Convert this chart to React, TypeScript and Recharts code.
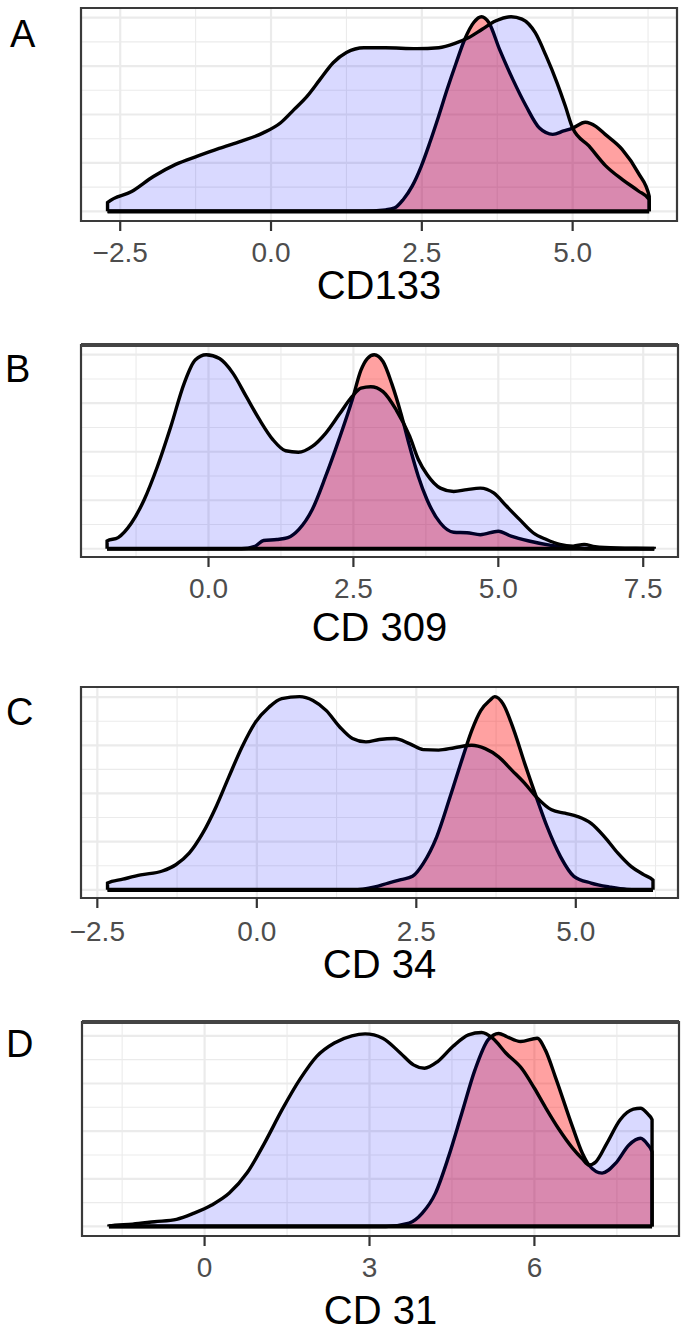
import React from "react";
import {
  AreaChart,
  Area,
  XAxis,
  YAxis,
  CartesianGrid,
  ReferenceLine,
  ReferenceArea,
} from "recharts";

// CD133 (panel A)
const aBlueX = [-2.71, -2.31, -1.95, -1.58, -1.22, -0.86, -0.49, -0.13, 0.16, 0.38, 0.6, 0.81, 1.03, 1.25, 1.54, 1.9, 2.41, 2.78, 3.07, 3.28, 3.5, 3.72, 3.98, 4.16, 4.38, 4.56, 4.74, 4.88, 5.0, 5.27, 5.54, 5.82, 6.09, 6.27];
const aBlueY = [0.18, 0.41, 0.72, 0.97, 1.14, 1.3, 1.45, 1.62, 1.83, 2.1, 2.38, 2.72, 3.07, 3.28, 3.38, 3.38, 3.36, 3.38, 3.48, 3.59, 3.76, 3.93, 4.02, 3.97, 3.69, 3.21, 2.66, 2.17, 1.72, 1.35, 0.95, 0.66, 0.42, 0.24];
const aRedX = [-2.71, 1.5, 1.9, 2.05, 2.19, 2.34, 2.49, 2.63, 2.78, 2.92, 3.07, 3.21, 3.36, 3.49, 3.61, 3.79, 4.01, 4.23, 4.45, 4.67, 4.85, 5.0, 5.21, 5.39, 5.54, 5.82, 6.09, 6.27];
const aRedY = [0, 0, 0.03, 0.07, 0.24, 0.52, 0.93, 1.41, 1.97, 2.52, 3.07, 3.55, 3.9, 4.02, 3.9, 3.34, 2.72, 2.17, 1.72, 1.59, 1.66, 1.72, 1.84, 1.75, 1.59, 1.28, 0.79, 0.31];

// CD 309 (panel B)
const bBlueX = [-1.75, -1.56, -1.33, -1.11, -0.88, -0.65, -0.42, -0.23, -0.04, 0.19, 0.42, 0.65, 0.88, 1.11, 1.33, 1.55, 1.79, 2.02, 2.25, 2.48, 2.63, 2.8, 3.01, 3.24, 3.47, 3.62, 3.77, 4.0, 4.23, 4.46, 4.69, 4.92, 5.14, 5.37, 5.6, 5.83, 6.06, 6.29, 6.48, 6.67, 7.05, 7.69];
const bBlueY = [0.16, 0.23, 0.53, 1.01, 1.7, 2.52, 3.41, 3.89, 4.0, 3.92, 3.62, 3.14, 2.66, 2.25, 2.02, 1.99, 2.11, 2.38, 2.76, 3.14, 3.31, 3.34, 3.24, 2.86, 2.32, 1.84, 1.53, 1.25, 1.18, 1.22, 1.25, 1.15, 0.88, 0.6, 0.33, 0.19, 0.09, 0.055, 0.09, 0.04, 0.015, 0.005];
const bRedX = [-1.75, 0.57, 0.8, 0.95, 1.18, 1.37, 1.56, 1.79, 2.02, 2.25, 2.48, 2.63, 2.74, 2.86, 3.01, 3.16, 3.32, 3.47, 3.62, 3.77, 4.0, 4.23, 4.46, 4.69, 5.0, 5.22, 5.53, 5.91, 6.29, 6.67, 7.69];
const bRedY = [0, 0, 0.05, 0.17, 0.19, 0.23, 0.4, 0.81, 1.49, 2.25, 3.07, 3.68, 3.92, 4.0, 3.86, 3.41, 2.79, 2.11, 1.49, 1.01, 0.53, 0.34, 0.33, 0.29, 0.36, 0.26, 0.16, 0.07, 0.02, 0, 0];

// CD 34 (panel C)
const cBlueX = [-2.34, -2.1, -1.82, -1.48, -1.27, -1.06, -0.85, -0.64, -0.44, -0.23, -0.02, 0.19, 0.39, 0.67, 0.88, 1.09, 1.3, 1.5, 1.71, 1.92, 2.16, 2.4, 2.61, 2.85, 3.1, 3.37, 3.58, 3.79, 4.0, 4.2, 4.38, 4.62, 4.83, 5.03, 5.24, 5.45, 5.66, 5.87, 6.07, 6.21];
const cBlueY = [0.14, 0.22, 0.31, 0.39, 0.52, 0.76, 1.17, 1.72, 2.34, 2.97, 3.48, 3.79, 3.97, 4.01, 3.93, 3.72, 3.38, 3.14, 3.07, 3.12, 3.14, 3.03, 2.91, 2.9, 2.95, 3.0, 2.93, 2.76, 2.48, 2.21, 1.93, 1.66, 1.59, 1.52, 1.38, 1.1, 0.76, 0.48, 0.31, 0.2];
const cRedX = [-2.34, 1.5, 1.85, 2.06, 2.26, 2.44, 2.61, 2.82, 3.03, 3.23, 3.37, 3.51, 3.65, 3.73, 3.86, 4.03, 4.2, 4.38, 4.55, 4.76, 4.97, 5.24, 5.52, 5.8, 6.21];
const cRedY = [0, 0, 0.06, 0.14, 0.21, 0.28, 0.55, 1.1, 1.93, 2.76, 3.31, 3.72, 3.93, 4.01, 3.86, 3.31, 2.62, 1.93, 1.31, 0.69, 0.28, 0.14, 0.06, 0.01, 0];

// CD 31 (panel D)
const dBlueX = [-1.74, -1.31, -0.91, -0.51, -0.19, 0.13, 0.45, 0.77, 1.09, 1.41, 1.73, 2.04, 2.36, 2.68, 2.92, 3.24, 3.56, 3.8, 4.0, 4.24, 4.52, 4.8, 5.04, 5.24, 5.48, 5.78, 6.0, 6.2, 6.44, 6.69, 6.87, 6.99, 7.12, 7.32, 7.56, 7.8, 7.93, 8.06, 8.14];
const dBlueY = [0.01, 0.05, 0.1, 0.15, 0.28, 0.45, 0.7, 1.12, 1.75, 2.45, 3.08, 3.57, 3.85, 4.0, 4.04, 3.95, 3.64, 3.39, 3.32, 3.46, 3.78, 4.02, 4.07, 3.95, 3.64, 3.3, 2.9, 2.5, 2.05, 1.65, 1.42, 1.29, 1.36, 1.75, 2.24, 2.46, 2.48, 2.36, 2.24];
const dRedX = [-1.74, 3.3, 3.72, 3.96, 4.2, 4.44, 4.68, 4.92, 5.16, 5.35, 5.5, 5.75, 6.05, 6.2, 6.38, 6.69, 6.87, 6.99, 7.23, 7.48, 7.72, 7.93, 8.06, 8.14];
const dRedY = [0, 0, 0.07, 0.28, 0.7, 1.47, 2.38, 3.29, 3.92, 4.05, 3.98, 3.88, 3.95, 3.7, 3.14, 2.1, 1.54, 1.29, 1.12, 1.33, 1.71, 1.85, 1.72, 1.57];

const yTicks = [0, 0.5, 1, 1.5, 2, 2.5, 3, 3.5, 4];
const yMajors = [0, 1, 2, 3, 4];
const ticks25 = [-2.5, -1.25, 0, 1.25, 2.5, 3.75, 5, 6.25];
const ticksB = [-1.25, 0, 1.25, 2.5, 3.75, 5, 6.25, 7.5];
const ticksD = [-1.5, 0, 1.5, 3, 4.5, 6, 7.5];

const FONT = "'Liberation Sans', Arial, Helvetica, sans-serif";
const MT = 6;
const AXIS_H = 52;

type Row = { x: number; blue?: number; red?: number };

const closeSeries = (xs: number[], ys: number[], key: "blue" | "red"): Row[] => {
  const pts: Row[] = xs.map((x, i) => ({ x, [key]: ys[i] }));
  const n = xs.length - 1;
  if (ys[0] > 0) pts.unshift({ x: xs[0], [key]: 0 });
  if (ys[n] > 0) pts.push({ x: xs[n], [key]: 0 });
  return pts;
};

const buildRows = (bx: number[], by: number[], rx: number[], ry: number[]) =>
  [...closeSeries(bx, by, "blue"), ...closeSeries(rx, ry, "red")].sort((a, b) => a.x - b.x);

const fmtTick = (v: number, ints: boolean) =>
  (ints ? String(v) : v.toFixed(1)).replace("-", "\u2212");

const XTick = (props: any) => {
  const { x, y, payload, majors, labelDy, ints } = props;
  if (!majors.includes(payload.value)) return <g />;
  return (
    <g>
      <line x1={x} x2={x} y1={y} y2={y + 10} stroke="#333" strokeWidth={2.2} />
      <text x={x} y={y + labelDy} textAnchor="middle" fontSize={28} fill="#4D4D4D" fontFamily={FONT}>
        {fmtTick(payload.value, ints)}
      </text>
    </g>
  );
};

const gridLine = (lp: any, ticks: number[], majors: number[]) => {
  const major = majors.includes(ticks[lp.index]);
  return (
    <line
      key={lp.key ?? lp.index}
      x1={lp.x1}
      y1={lp.y1}
      x2={lp.x2}
      y2={lp.y2}
      stroke="#EBEBEB"
      strokeWidth={major ? 2.2 : 1.1}
    />
  );
};

type PanelCfg = {
  letter: string;
  title: string;
  top: number;
  boxH: number;
  left: number;
  right: number;
  xDomain: [number, number];
  yDomain: [number, number];
  xTicks: number[];
  xMajors: number[];
  ints: boolean;
  labelDy: number;
  titleY: number;
  letterX: number;
  letterY: number;
  thickTop: boolean;
  blueX: number[];
  blueY: number[];
  redX: number[];
  redY: number[];
};

const panels: PanelCfg[] = [
  {
    letter: "A", title: "CD133", top: 8, boxH: 213, left: 81, right: 677,
    xDomain: [-3.15, 6.73], yDomain: [-0.2, 4.2], xTicks: ticks25, xMajors: [-2.5, 0, 2.5, 5],
    ints: false, labelDy: 41, titleY: 299, letterX: 10, letterY: 47, thickTop: false,
    blueX: aBlueX, blueY: aBlueY, redX: aRedX, redY: aRedY,
  },
  {
    letter: "B", title: "CD 309", top: 345, boxH: 212, left: 81, right: 678,
    xDomain: [-2.2, 8.1], yDomain: [-0.17, 4.2], xTicks: ticksB, xMajors: [0, 2.5, 5, 7.5],
    ints: false, labelDy: 41, titleY: 641, letterX: 5, letterY: 382, thickTop: true,
    blueX: bBlueX, blueY: bBlueY, redX: bRedX, redY: bRedY,
  },
  {
    letter: "C", title: "CD 34", top: 687, boxH: 211, left: 81, right: 678,
    xDomain: [-2.756, 6.602], yDomain: [-0.17, 4.21], xTicks: ticks25, xMajors: [-2.5, 0, 2.5, 5],
    ints: false, labelDy: 43, titleY: 978, letterX: 6, letterY: 725, thickTop: false,
    blueX: cBlueX, blueY: cBlueY, redX: cRedX, redY: cRedY,
  },
  {
    letter: "D", title: "CD 31", top: 1022, boxH: 214, left: 82, right: 679,
    xDomain: [-2.23, 8.63], yDomain: [-0.2, 4.29], xTicks: ticksD, xMajors: [0, 3, 6],
    ints: true, labelDy: 41, titleY: 1324, letterX: 6, letterY: 1057, thickTop: true,
    blueX: dBlueX, blueY: dBlueY, redX: dRedX, redY: dRedY,
  },
];

const DensityPanel = ({ p }: { p: PanelCfg }) => {
  const rows = buildRows(p.blueX, p.blueY, p.redX, p.redY);
  const x0 = Math.min(p.blueX[0], p.redX[0]);
  const x1 = Math.max(p.blueX[p.blueX.length - 1], p.redX[p.redX.length - 1]);
  return (
    <div style={{ position: "absolute", left: 0, top: p.top - MT }}>
      <AreaChart
        width={688}
        height={MT + p.boxH + AXIS_H}
        data={rows}
        margin={{ top: MT, right: 688 - p.right, left: p.left, bottom: 0 }}
      >
        <CartesianGrid
          syncWithTicks
          horizontal={(lp: any) => gridLine(lp, yTicks, yMajors)}
          vertical={(lp: any) => gridLine(lp, p.xTicks, p.xMajors)}
        />
        <XAxis
          type="number"
          dataKey="x"
          domain={p.xDomain}
          ticks={p.xTicks}
          interval={0}
          allowDataOverflow
          height={AXIS_H}
          axisLine={false}
          tickLine={false}
          tickSize={0}
          tickMargin={0}
          tick={<XTick majors={p.xMajors} labelDy={p.labelDy} ints={p.ints} />}
        />
        <YAxis type="number" domain={p.yDomain} ticks={yTicks} interval={0} allowDataOverflow hide />
        <Area
          type="monotone"
          dataKey="red"
          baseValue={0}
          connectNulls
          stroke="#000"
          strokeWidth={3.4}
          fill="#FF0000"
          fillOpacity={0.37}
          dot={false}
          activeDot={false}
          isAnimationActive={false}
        />
        <Area
          type="monotone"
          dataKey="blue"
          baseValue={0}
          connectNulls
          stroke="#000"
          strokeWidth={3.4}
          fill="#0000FF"
          fillOpacity={0.15}
          dot={false}
          activeDot={false}
          isAnimationActive={false}
        />
        <ReferenceLine
          segment={[{ x: x0, y: 0 }, { x: x1, y: 0 }]}
          stroke="#000"
          strokeWidth={4.2}
        />
        <ReferenceArea
          x1={p.xDomain[0]}
          x2={p.xDomain[1]}
          y1={p.yDomain[0]}
          y2={p.yDomain[1]}
          fill="none"
          stroke="#3A3A3A"
          strokeWidth={2.2}
        />
        {p.thickTop && <ReferenceLine y={p.yDomain[1]} stroke="#444" strokeWidth={4} />}
      </AreaChart>
    </div>
  );
};

export default function App() {
  return (
    <div
      style={{
        position: "absolute",
        left: 0,
        top: 0,
        width: 688,
        height: 1330,
        background: "#fff",
        fontFamily: FONT,
        overflow: "hidden",
      }}
    >
      {panels.map((p) => (
        <DensityPanel key={p.letter} p={p} />
      ))}
      <svg width={688} height={1330} style={{ position: "absolute", left: 0, top: 0, pointerEvents: "none" }}>
        {panels.map((p) => (
          <g key={p.letter}>
            <text x={p.letterX} y={p.letterY} fontSize={38} fill="#000" fontFamily={FONT}>
              {p.letter}
            </text>
            <text x={(p.left + p.right) / 2} y={p.titleY} fontSize={40} textAnchor="middle" fill="#000" fontFamily={FONT}>
              {p.title}
            </text>
          </g>
        ))}
      </svg>
    </div>
  );
}
